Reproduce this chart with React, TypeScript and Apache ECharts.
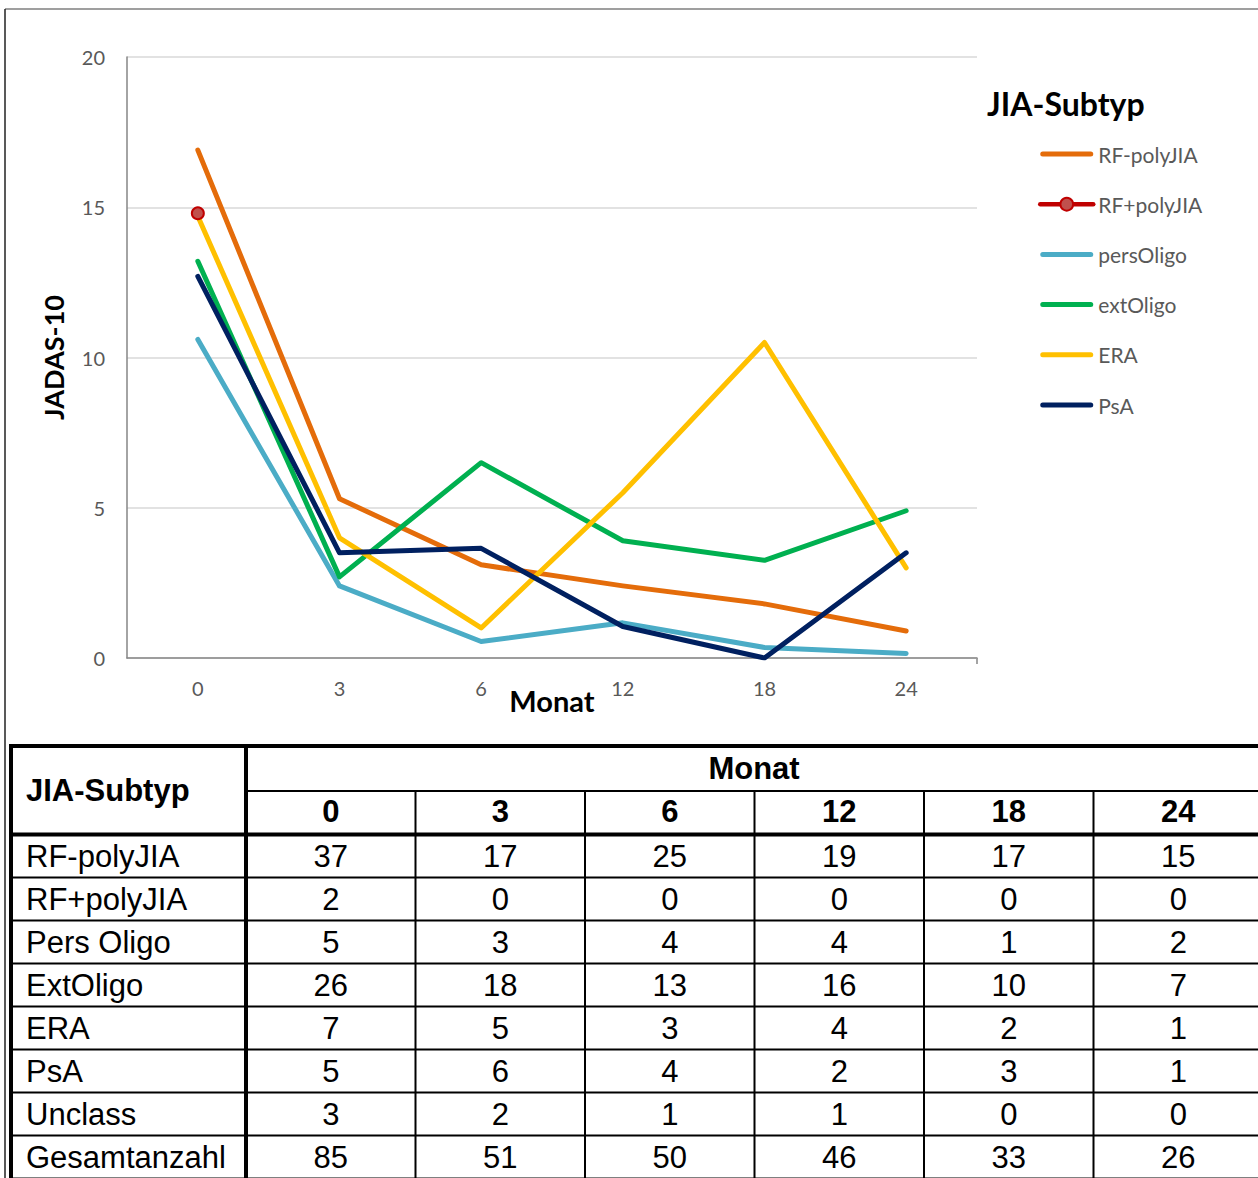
import React, { useEffect, useRef } from "react";
import * as echarts from "echarts";

// Months after baseline (category axis)
const months = ["0", "3", "6", "12", "18", "24"];

// Mean JADAS-10 per JIA subtype
const rfNegPoly = [16.9, 5.3, 3.1, 2.4, 1.8, 0.9];
const rfPosPoly = [14.8, null, null, null, null, null];
const persOligo = [10.6, 2.4, 0.55, 1.17, 0.35, 0.15];
const extOligo = [13.2, 2.7, 6.5, 3.9, 3.25, 4.9];
const era = [14.7, 4.0, 1.0, 5.5, 10.5, 3.0];
const psa = [12.7, 3.5, 3.65, 1.05, 0.0, 3.5];

const seriesNames = ["RF-polyJIA", "RF+polyJIA", "persOligo", "extOligo", "ERA", "PsA"];
const seriesColors = ["#E46C0A", "#C00000", "#4BACC6", "#00B050", "#FFC000", "#002060"];
const seriesData = [rfNegPoly, rfPosPoly, persOligo, extOligo, era, psa];

const yTicks = [0, 5, 10, 15, 20];

// Patient counts per subtype and month
const tableRowLabels = [
  "RF-polyJIA",
  "RF+polyJIA",
  "Pers Oligo",
  "ExtOligo",
  "ERA",
  "PsA",
  "Unclass",
  "Gesamtanzahl",
];
const countRfNeg = [37, 17, 25, 19, 17, 15];
const countRfPos = [2, 0, 0, 0, 0, 0];
const countPersOligo = [5, 3, 4, 4, 1, 2];
const countExtOligo = [26, 18, 13, 16, 10, 7];
const countEra = [7, 5, 3, 4, 2, 1];
const countPsa = [5, 6, 4, 2, 3, 1];
const countUnclass = [3, 2, 1, 1, 0, 0];
const countTotal = [85, 51, 50, 46, 33, 26];
const tableCounts = [
  countRfNeg,
  countRfPos,
  countPersOligo,
  countExtOligo,
  countEra,
  countPsa,
  countUnclass,
  countTotal,
];

const W = 1258;
const H = 1178;
const TABLE_FONT = "Liberation Sans, Arial, sans-serif";
const CHART_FONT = "Lato, 'Open Sans', sans-serif";
const LINE_W = 5;

// rounded bar used as a plain line key in the legend
const BAR_ICON =
  "path://M2.5,0 H50.5 A2.5,2.5 0 0 1 50.5,5 H2.5 A2.5,2.5 0 0 1 2.5,0 Z";

function buildTable(): any[] {
  const els: any[] = [];
  const left = 11;
  const labelColRight = 246;
  const colW = 169.5;
  const colEdges = months.map((_, i) => labelColRight + colW * i);
  colEdges.push(labelColRight + colW * months.length);
  const top = 746;
  const subTop = 791;
  const headBottom = 834.5;
  const rowH = 43;
  const rowEdges = tableRowLabels.map((_, i) => headBottom + rowH * i);
  rowEdges.push(headBottom + rowH * tableRowLabels.length);

  const line = (x1: number, y1: number, x2: number, y2: number, w: number) =>
    els.push({
      type: "line",
      shape: { x1, y1, x2, y2 },
      style: { stroke: "#000", lineWidth: w },
      silent: true,
    });
  const text = (
    t: string,
    x: number,
    y: number,
    align: string,
    bold: boolean
  ) =>
    els.push({
      type: "text",
      x,
      y,
      silent: true,
      style: {
        text: t,
        fontFamily: TABLE_FONT,
        fontSize: 31,
        fontWeight: bold ? "bold" : "normal",
        fill: "#000",
        align,
        verticalAlign: "middle",
      },
    });

  // horizontal rules
  line(left - 2, top, W + 10, top, 4);
  line(labelColRight, subTop, W + 10, subTop, 2);
  line(left - 2, headBottom, W + 10, headBottom, 4);
  for (let i = 1; i < rowEdges.length; i++) {
    line(left, rowEdges[i], W + 10, rowEdges[i], 2);
  }
  // vertical rules
  line(left, top, left, H + 10, 4);
  line(labelColRight, top, labelColRight, H + 10, 4);
  for (let i = 1; i < colEdges.length; i++) {
    line(colEdges[i], subTop, colEdges[i], H + 10, 2);
  }

  // header
  text("JIA-Subtyp", 26, (top + headBottom) / 2, "left", true);
  text("Monat", (labelColRight + W + 4) / 2, (top + subTop) / 2, "center", true);
  months.forEach((m, i) => {
    text(m, colEdges[i] + colW / 2, (subTop + headBottom) / 2 - 1, "center", true);
  });

  // body
  tableRowLabels.forEach((label, r) => {
    const cy = (rowEdges[r] + rowEdges[r + 1]) / 2;
    text(label, 26, cy, "left", false);
    tableCounts[r].forEach((v, c) => {
      text(String(v), colEdges[c] + colW / 2, cy, "center", false);
    });
  });
  return els;
}

export default function App() {
  const ref = useRef<HTMLDivElement>(null);

  useEffect(() => {
    if (!ref.current) return;
    const chart = echarts.init(ref.current, undefined, { renderer: "svg" });

    const series = seriesNames.map((name, i) => {
      const isMarked = name === "RF+polyJIA";
      return {
        name,
        type: "line",
        data: seriesData[i],
        symbol: isMarked ? "circle" : "none",
        symbolSize: 12,
        showSymbol: isMarked,
        connectNulls: false,
        lineStyle: {
          color: seriesColors[i],
          width: LINE_W,
          cap: "round",
          join: "round",
        },
        itemStyle: isMarked
          ? { color: "#C0504D", borderColor: "#C00000", borderWidth: 2 }
          : { color: seriesColors[i] },
        emphasis: { disabled: true },
      };
    });

    const legendData = seriesNames.map((name) =>
      name === "RF+polyJIA" ? { name } : { name, icon: BAR_ICON }
    );

    const option: any = {
      animation: false,
      backgroundColor: "#ffffff",
      textStyle: { fontFamily: CHART_FONT },
      grid: { left: 127, top: 57, width: 850, height: 601 },
      xAxis: {
        type: "category",
        data: months,
        boundaryGap: true,
        axisLine: { lineStyle: { color: "#868686", width: 1.5 } },
        axisTick: {
          alignWithLabel: true,
          length: 6,
          lineStyle: { color: "#868686", width: 1.5 },
        },
        axisLabel: { color: "#595959", fontSize: 20, margin: 20 },
        name: "Monat",
        nameLocation: "middle",
        nameGap: 28,
        nameMoveOverlap: false,
        nameTextStyle: { color: "#000", fontWeight: "bold", fontSize: 29 },
      },
      yAxis: {
        type: "value",
        min: yTicks[0],
        max: yTicks[yTicks.length - 1],
        interval: 5,
        axisLine: { show: true, lineStyle: { color: "#868686", width: 1.5 } },
        axisTick: { show: false },
        axisLabel: { color: "#595959", fontSize: 20, margin: 22 },
        splitLine: { lineStyle: { color: "#d9d9d9", width: 1.5 } },
        name: "JADAS-10",
        nameLocation: "middle",
        nameGap: 60,
        nameMoveOverlap: false,
        nameTextStyle: { color: "#000", fontWeight: "bold", fontSize: 27 },
      },
      legend: {
        orient: "vertical",
        left: 1038,
        top: 142,
        padding: 0,
        itemWidth: 53,
        itemHeight: 16,
        itemGap: 26.2,
        data: legendData,
        lineStyle: { width: 4.5 },
        textStyle: { color: "#595959", fontSize: 21, lineHeight: 24 },
        selectedMode: false,
      },
      series,
      graphic: [
        {
          type: "text",
          x: 987,
          y: 103,
          silent: true,
          style: {
            text: "JIA-Subtyp",
            fontFamily: CHART_FONT,
            fontSize: 32,
            fontWeight: "bold",
            fill: "#000",
            align: "left",
            verticalAlign: "middle",
          },
        },
        // small closing tick at the right end of the category axis
        {
          type: "line",
          silent: true,
          shape: { x1: 977, y1: 658, x2: 977, y2: 664 },
          style: { stroke: "#868686", lineWidth: 1.5 },
        },
        // outer frame
        {
          type: "line",
          silent: true,
          shape: { x1: 5, y1: 9, x2: W, y2: 9 },
          style: { stroke: "#7f7f7f", lineWidth: 1.5 },
        },
        {
          type: "line",
          silent: true,
          shape: { x1: 5, y1: 9, x2: 5, y2: H },
          style: { stroke: "#222", lineWidth: 1.5 },
        },
        ...buildTable(),
      ],
    };

    chart.setOption(option);
    return () => chart.dispose();
  }, []);

  return (
    <div
      ref={ref}
      style={{ position: "absolute", left: 0, top: 0, width: W, height: H }}
    />
  );
}
